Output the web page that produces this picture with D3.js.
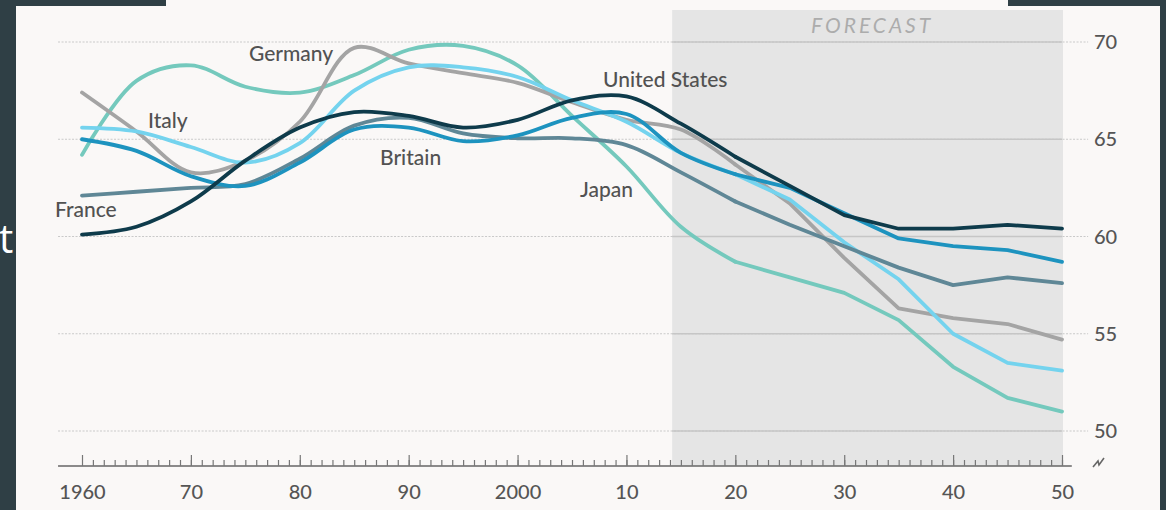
<!DOCTYPE html>
<html>
<head>
<meta charset="utf-8">
<script src="https://cdn.jsdelivr.net/npm/d3@7"></script>
<style>
  body { margin: 0; background: #2f3f45; }
  svg { display: block; }
</style>
</head>
<body>
<div id="chart"></div>
<script>
// data, 5-year steps
const years = [1960, 1965, 1970, 1975, 1980, 1985, 1990, 1995, 2000, 2005, 2010, 2015, 2020, 2025, 2030, 2035, 2040, 2045, 2050];
const unitedStates = [60.1, 60.5, 61.8, 63.9, 65.6, 66.4, 66.2, 65.6, 66.0, 67.0, 67.2, 65.8, 64.1, 62.6, 61.1, 60.4, 60.4, 60.6, 60.4];
const france = [62.1, 62.3, 62.5, 62.7, 64.0, 65.7, 66.1, 65.3, 65.05, 65.05, 64.7, 63.3, 61.8, 60.6, 59.5, 58.4, 57.5, 57.9, 57.6];
const germany = [67.4, 65.4, 63.3, 63.9, 65.9, 69.7, 68.9, 68.4, 67.9, 66.9, 66.0, 65.5, 63.7, 61.7, 58.9, 56.3, 55.8, 55.5, 54.7];
const italy = [65.6, 65.4, 64.6, 63.8, 64.8, 67.5, 68.7, 68.7, 68.2, 67.0, 65.9, 64.3, 63.2, 61.9, 59.7, 57.8, 55.0, 53.5, 53.1];
const britain = [65.0, 64.4, 63.1, 62.6, 63.8, 65.5, 65.6, 64.9, 65.2, 66.1, 66.3, 64.3, 63.2, 62.5, 61.2, 59.9, 59.5, 59.3, 58.7];
const japan = [64.2, 68.0, 68.8, 67.7, 67.4, 68.3, 69.6, 69.8, 68.8, 66.2, 63.6, 60.5, 58.7, 57.9, 57.1, 55.7, 53.3, 51.7, 51.0];

const yTicks = [50, 55, 60, 65, 70];
const xLabels = [1960, 1970, 1980, 1990, 2000, 2010, 2020, 2030, 2040, 2050];
const forecastStart = 2014.2;
const splitYear = 2020;

const series = [
  {name: "Japan", values: japan, color: "#74c9bd", label: [580, 197]},
  {name: "Germany", values: germany, color: "#a4a4a4", label: [249, 61]},
  {name: "Italy", values: italy, color: "#74d3ee", label: [148, 128]},
  {name: "France", values: france, color: "#5f8796", label: [55, 217]},
  {name: "Britain", values: britain, color: "#1d93bf", label: [380, 165]},
  {name: "United States", values: unitedStates, color: "#0e3b4b", label: [603, 87]}
];

const W = 1166, H = 510;
const font = "Lato, 'Open Sans', sans-serif";
const svg = d3.select("#chart").append("svg")
  .attr("width", W).attr("height", H)
  .style("font-family", font);

// background panels
svg.append("rect").attr("x", 0).attr("y", 0).attr("width", W).attr("height", H).attr("fill", "#2f3f45");
svg.append("rect").attr("x", 16).attr("y", 6).attr("width", 1144).attr("height", H - 6).attr("fill", "#faf8f7");
svg.append("rect").attr("x", 166).attr("y", 0).attr("width", 842).attr("height", 8).attr("fill", "#faf8f7");

// cut-off letter from the slide behind
svg.append("text").attr("x", -1).attr("y", 253)
  .attr("fill", "#ffffff").style("font-family", "'Open Sans', sans-serif")
  .attr("font-size", 40).text("t");

const x = d3.scaleLinear().domain([1960, 2050]).range([82, 1062]);
const y = d3.scaleLinear().domain([50, 70]).range([431, 42]);
const axisY = 466;

// forecast shading
svg.append("rect")
  .attr("x", x(forecastStart)).attr("y", 10)
  .attr("width", x(2050) - x(forecastStart) + 1)
  .attr("height", axisY - 10)
  .attr("fill", "#e5e5e5");

svg.append("text")
  .attr("x", 811).attr("y", 33)
  .attr("fill", "#acacac")
  .attr("font-size", 21)
  .attr("font-style", "italic")
  .attr("letter-spacing", 3)
  .text("FORECAST");

// gridlines: dotted outside forecast, solid inside
const grid = svg.append("g");
grid.selectAll("line.dot")
  .data(yTicks)
  .join("line")
  .attr("x1", x(1957.8)).attr("x2", x(2052.4))
  .attr("y1", d => y(d)).attr("y2", d => y(d))
  .attr("stroke", "#c9c9c9")
  .attr("stroke-width", 1.2)
  .attr("stroke-dasharray", "2,1.5");
grid.selectAll("line.solid")
  .data(yTicks)
  .join("line")
  .attr("x1", x(forecastStart)).attr("x2", x(2050))
  .attr("y1", d => y(d)).attr("y2", d => y(d))
  .attr("stroke", "#c6c6c6")
  .attr("stroke-width", 1.6);

// y labels on the right
svg.append("g")
  .selectAll("text")
  .data(yTicks)
  .join("text")
  .attr("x", 1094)
  .attr("y", d => y(d))
  .attr("dy", "0.36em")
  .attr("font-size", 20)
  .attr("font-weight", 500)
  .attr("fill", "#555")
  .text(d => d);

// lines: smooth history, straight forecast
const pts = s => years.map((yr, i) => [yr, s.values[i]]);
const smooth = d3.line().x(d => x(d[0])).y(d => y(d[1])).curve(d3.curveCatmullRom.alpha(0.5));
const straight = d3.line().x(d => x(d[0])).y(d => y(d[1]));

const lines = svg.append("g");
series.forEach(s => {
  const p = pts(s);
  lines.append("path")
    .attr("d", smooth(p.filter(d => d[0] <= splitYear)))
    .attr("fill", "none").attr("stroke", s.color)
    .attr("stroke-width", 3.8).attr("stroke-linecap", "round");
  lines.append("path")
    .attr("d", straight(p.filter(d => d[0] >= splitYear)))
    .attr("fill", "none").attr("stroke", s.color)
    .attr("stroke-width", 3.8).attr("stroke-linecap", "round").attr("stroke-linejoin", "round");
});

// series labels
svg.append("g")
  .selectAll("text")
  .data(series)
  .join("text")
  .attr("x", d => d.label[0])
  .attr("y", d => d.label[1])
  .attr("font-size", 21)
  .attr("font-weight", 500)
  .attr("fill", "#525252")
  .text(d => d.name);

// x axis: baseline, yearly ticks, decade ticks, labels
svg.append("line")
  .attr("x1", x(1957.8)).attr("x2", x(2050.9))
  .attr("y1", axisY).attr("y2", axisY)
  .attr("stroke", "#666").attr("stroke-width", 1.5);

const minor = svg.append("g").attr("transform", `translate(0,${axisY})`)
  .call(d3.axisTop(x).tickValues(d3.range(1961, 2051)).tickSize(6).tickFormat(""));
const major = svg.append("g").attr("transform", `translate(0,${axisY})`)
  .call(d3.axisTop(x).tickValues(xLabels).tickSize(11).tickFormat(""));
const labels = svg.append("g").attr("transform", `translate(0,${axisY})`)
  .call(d3.axisBottom(x).tickValues(xLabels).tickSize(0).tickPadding(19)
    .tickFormat(d => (d === 1960 || d === 2000) ? String(d) : String(d).slice(2)));

[minor, major, labels].forEach(g => {
  g.select(".domain").remove();
  g.selectAll(".tick line").attr("stroke", "#777").attr("stroke-width", 1.2);
  g.selectAll("text").attr("font-size", 20).attr("font-weight", 500).attr("fill", "#555")
    .style("font-family", font);
});

// axis break mark
const bx = x(2050) + 37, by = axisY - 4;
svg.append("path")
  .attr("d", `M${bx - 6},${by + 5} L${bx - 1},${by - 1} L${bx},${by + 3} L${bx + 5},${by - 4}`)
  .attr("fill", "none").attr("stroke", "#666").attr("stroke-width", 1.6);
</script>
</body>
</html>
